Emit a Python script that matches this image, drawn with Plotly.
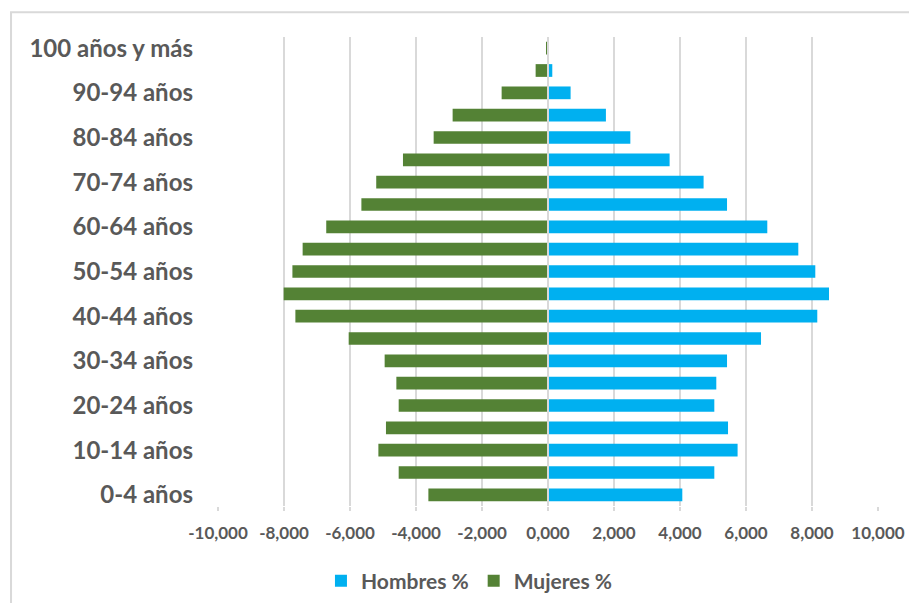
import plotly.graph_objects as go

categories = ["0-4 años", "5-9 años", "10-14 años", "15-19 años", "20-24 años",
              "25-29 años", "30-34 años", "35-39 años", "40-44 años", "45-49 años",
              "50-54 años", "55-59 años", "60-64 años", "65-69 años", "70-74 años",
              "75-79 años", "80-84 años", "85-89 años", "90-94 años", "95-99 años",
              "100 años y más"]

hombres = [4070, 5040, 5745, 5455, 5040, 5100, 5425, 6455, 8160, 8515,
           8100, 7585, 6645, 5425, 4715, 3685, 2495, 1755, 685, 130, 10]

mujeres = [-3625, -4525, -5140, -4910, -4525, -4595, -4950, -6040, -7655, -8010,
           -7745, -7435, -6720, -5655, -5205, -4395, -3465, -2890, -1405, -375, -50]

x_tickvals = [-10000, -8000, -6000, -4000, -2000, 0, 2000, 4000, 6000, 8000, 10000]
x_ticktext = ["-10,000", "-8,000", "-6,000", "-4,000", "-2,000", "0,000",
              "2,000", "4,000", "6,000", "8,000", "10,000"]
y_tickvals = categories[::2]

TEXT = "#595959"
GRID = "#D9D9D9"
FONT = "Lato"

fig = go.Figure()
fig.add_trace(go.Bar(y=categories, x=hombres, orientation="h", name="Hombres %",
                     marker=dict(color="#00B0F0", line=dict(width=0))))
fig.add_trace(go.Bar(y=categories, x=mujeres, orientation="h", name="Mujeres %",
                     marker=dict(color="#548235", line=dict(width=0))))

fig.update_layout(
    width=917, height=603,
    margin=dict(l=210, r=47, t=29, b=105, autoexpand=False),
    paper_bgcolor="white", plot_bgcolor="white",
    barmode="relative", bargap=0.43,
    font=dict(family=FONT, color=TEXT),
    showlegend=True,
    legend=dict(orientation="h", x=0.381, xanchor="center", y=-0.16, yanchor="middle",
                font=dict(size=21, family=FONT, color=TEXT, weight="bold"),
                traceorder="normal", itemwidth=30),
    xaxis=dict(range=[-10000, 10000], tickvals=x_tickvals, ticktext=x_ticktext,
               showgrid=True, gridcolor=GRID, gridwidth=1.5, zeroline=False,
               ticks="outside", ticklen=4, tickcolor=GRID, tickwidth=1.5,
               tickfont=dict(size=17, family=FONT, color=TEXT, weight="bold"),
               ticklabelstandoff=8, showline=False, fixedrange=True),
    yaxis=dict(type="category", categoryorder="array", categoryarray=categories,
               range=[-0.5, len(categories) - 0.5], tickvals=y_tickvals,
               showgrid=False, zeroline=False, ticks="", showline=False,
               tickfont=dict(size=24, family=FONT, color=TEXT, weight="bold"),
               ticklabelstandoff=24),
)

# zero axis line above the bars
fig.add_shape(type="line", xref="x", yref="paper", x0=0, x1=0, y0=0, y1=1,
              line=dict(color=GRID, width=2), layer="above")
# chart frame (left and top edges)
fig.add_shape(type="path", xref="paper", yref="paper",
              path="M -0.3136,-0.25 L -0.3136,1.0528 L 1.08,1.0528",
              line=dict(color=GRID, width=2))

fig.write_html("out.html")
